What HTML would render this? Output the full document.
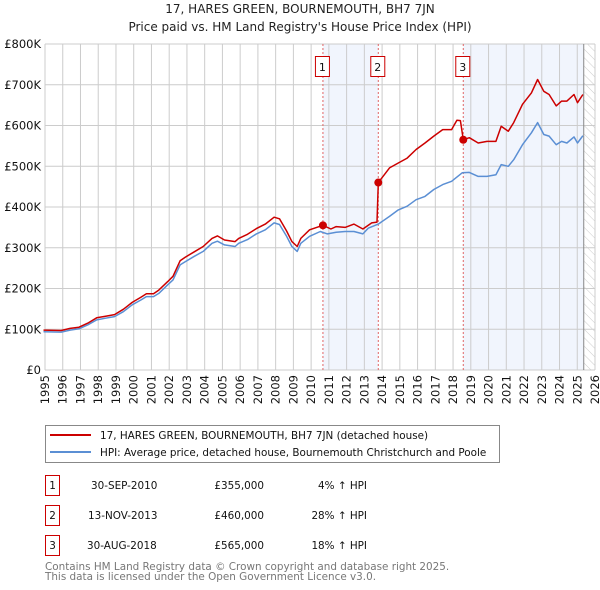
<!DOCTYPE html>
<html><head><meta charset="utf-8"><style>
body{margin:0;background:#fff;font-family:"DejaVu Sans","Liberation Sans",sans-serif;}
svg{display:block}
</style></head><body>
<svg id="c" width="600" height="590" xmlns="http://www.w3.org/2000/svg" font-family="DejaVu Sans, Liberation Sans, sans-serif">
<text x="300" y="13" text-anchor="middle" font-size="12" fill="#222">17, HARES GREEN, BOURNEMOUTH, BH7 7JN</text>
<text x="300" y="31" text-anchor="middle" font-size="12" fill="#222">Price paid vs. HM Land Registry's House Price Index (HPI)</text>
<defs><pattern id="hatch" width="6" height="6" patternUnits="userSpaceOnUse" patternTransform="rotate(-45)"><line x1="0" y1="0" x2="0" y2="6" stroke="#ccc" stroke-width="1"/></pattern></defs>
<g id="bg"></g><g id="grid"></g><g id="marks"></g><g id="axes"></g>
<g>
<rect x="45.5" y="425.5" width="454" height="37" fill="#fff" stroke="#888"/>
<line x1="50" y1="435" x2="91" y2="435" stroke="#cc0000" stroke-width="2"/>
<text x="100" y="439" font-size="10.4" fill="#111">17, HARES GREEN, BOURNEMOUTH, BH7 7JN (detached house)</text>
<line x1="50" y1="452" x2="91" y2="452" stroke="#5b8fd4" stroke-width="2"/>
<text x="100" y="456" font-size="10.4" fill="#111">HPI: Average price, detached house, Bournemouth Christchurch and Poole</text>
</g>
<g font-size="10.4" fill="#111">
<rect x="45.5" y="475.5" width="14" height="20" fill="#fff" stroke="#cc0000"/><text x="52.5" y="489" text-anchor="middle">1</text>
<text x="91" y="489">30-SEP-2010</text><text x="264" y="489" text-anchor="end">£355,000</text><text x="367" y="489" text-anchor="end">4% ↑ HPI</text>
<rect x="45.5" y="505.5" width="14" height="20" fill="#fff" stroke="#cc0000"/><text x="52.5" y="519" text-anchor="middle">2</text>
<text x="88" y="519">13-NOV-2013</text><text x="264" y="519" text-anchor="end">£460,000</text><text x="367" y="519" text-anchor="end">28% ↑ HPI</text>
<rect x="45.5" y="535.5" width="14" height="20" fill="#fff" stroke="#cc0000"/><text x="52.5" y="549" text-anchor="middle">3</text>
<text x="87" y="549">30-AUG-2018</text><text x="264" y="549" text-anchor="end">£565,000</text><text x="367" y="549" text-anchor="end">18% ↑ HPI</text>
</g>
<text x="45" y="570" font-size="10.4" fill="#777">Contains HM Land Registry data © Crown copyright and database right 2025.</text>
<text x="45" y="580" font-size="10.4" fill="#777">This data is licensed under the Open Government Licence v3.0.</text>
</svg>
<script>
const hpiYears=[1995,1996,1996.5,1997,1997.5,1998,1998.5,1999,1999.5,2000,2000.5,2000.8,2001.2,2001.5,2002,2002.3,2002.7,2003,2003.5,2004,2004.5,2004.8,2005.2,2005.8,2006,2006.5,2007,2007.5,2008,2008.3,2008.7,2009,2009.3,2009.5,2010,2010.6,2011,2011.5,2012,2012.5,2013,2013.3,2013.87,2014.5,2015,2015.5,2016,2016.5,2017,2017.5,2018,2018.6,2019,2019.5,2020,2020.5,2020.8,2021.2,2021.5,2022,2022.5,2022.85,2023.2,2023.5,2023.9,2024.2,2024.5,2024.9,2025.1,2025.4];
const hpiValues=[94,93,98,101,111,123,127,131,143,160,172,180,180,188,209,221,258,266,279,291,311,316,307,303,311,320,334,344,361,357,328,303,291,311,328,340,334,338,340,340,334,348,358,377,393,402,418,426,443,455,463,484,485,475,475,479,504,500,516,553,582,607,578,574,553,561,557,572,557,575];
const priceYears=[1995,1996,1996.5,1997,1997.5,1998,1998.5,1999,1999.5,2000,2000.5,2000.8,2001.2,2001.5,2002,2002.3,2002.7,2003,2003.5,2004,2004.5,2004.8,2005.2,2005.8,2006,2006.5,2007,2007.5,2008,2008.3,2008.7,2009,2009.3,2009.5,2010,2010.75,2011.2,2011.5,2012,2012.5,2013,2013.5,2013.8,2013.87,2014.5,2015,2015.5,2016,2016.5,2017,2017.5,2018,2018.3,2018.5,2018.66,2019,2019.5,2020,2020.5,2020.8,2021.2,2021.5,2022,2022.5,2022.85,2023.2,2023.5,2023.9,2024.2,2024.5,2024.9,2025.1,2025.4];
const priceValues=[98,97,102,105,115,128,132,136,149,166,179,187,187,196,217,230,268,277,290,303,323,329,319,315,323,333,347,358,375,371,341,315,303,323,344,355,346,352,350,358,346,361,363,460,496,508,520,541,557,574,590,590,613,612,565,570,557,561,561,598,586,607,652,680,713,684,676,648,660,660,676,656,676];
const saleYears=[2010.75,2013.87,2018.66];
const saleValues=[355,460,565];
const saleLabels=["1","2","3"];
const yTicks=[0,100,200,300,400,500,600,700,800];
const yTickLabels=["£0","£100K","£200K","£300K","£400K","£500K","£600K","£700K","£800K"];
const xTicks=[1995,1996,1997,1998,1999,2000,2001,2002,2003,2004,2005,2006,2007,2008,2009,2010,2011,2012,2013,2014,2015,2016,2017,2018,2019,2020,2021,2022,2023,2024,2025,2026];
const dataEnd=2025.45;

const NS="http://www.w3.org/2000/svg";
const L=45,R=595,T=44,B=370;
const xs=y=>L+(y-1995)/(2026-1995)*(R-L)-1.5;
const ys=v=>B-v/800*(B-T);
function mk(tag,attrs,parent){const e=document.createElementNS(NS,tag);for(const k in attrs)e.setAttribute(k,attrs[k]);parent.appendChild(e);return e;}
const gx=y=>L+(y-1995)/(2026-1995)*(R-L);
const bg=document.getElementById('bg'),grid=document.getElementById('grid'),marks=document.getElementById('marks'),axes=document.getElementById('axes');
let r=mk('rect',{x:xs(saleYears[0]),y:T,width:xs(saleYears[1])-xs(saleYears[0]),height:B-T,fill:'#eef3fc',opacity:0.8},bg);


r=mk('rect',{x:xs(saleYears[2]),y:T,width:xs(dataEnd)-xs(saleYears[2]),height:B-T,fill:'#eef3fc',opacity:0.8},bg);


r=mk('rect',{x:xs(dataEnd),y:T,width:R-xs(dataEnd),height:B-T,fill:'url(#hatch)'},bg);


yTicks.forEach((v,i)=>{
 mk('line',{x1:L,x2:R,y1:ys(v),y2:ys(v),stroke:'#ccc'},grid);
 const t=mk('text',{x:L-4,y:ys(v)+4,'text-anchor':'end','font-size':11.5,fill:'#111'},axes);t.textContent=yTickLabels[i];
 
 
});
xTicks.forEach(y=>{
 mk('line',{x1:gx(y),x2:gx(y),y1:T,y2:B,stroke:'#ccc'},grid);
 const t=mk('text',{x:0,y:0,'text-anchor':'end','font-size':11.5,fill:'#111',transform:`translate(${gx(y)+4},${B+5}) rotate(-90)`},axes);t.textContent=y;
 
 
});
mk('line',{x1:xs(dataEnd),x2:xs(dataEnd),y1:T,y2:B,stroke:'#888'},grid);
saleYears.forEach((y,i)=>{
 const d=mk('line',{x1:xs(y),x2:xs(y),y1:T,y2:B,stroke:'#e06666','stroke-dasharray':'2,2'},marks);
 
 
});
function path(xa,va,col,name){
 const p=mk('path',{d:xa.map((y,i)=>(i?'L':'M')+xs(y).toFixed(1)+','+ys(va[i]).toFixed(1)).join(''),fill:'none',stroke:col,'stroke-width':1.5,'stroke-linejoin':'round'},marks);
 
 
}
path(hpiYears,hpiValues,'#5b8fd4','hpi-line');
path(priceYears,priceValues,'#cc0000','price-paid-line');
saleYears.forEach((y,i)=>{
 const c=mk('circle',{cx:xs(y),cy:ys(saleValues[i]),r:4,fill:'#cc0000'},marks);
 
 
 const g=mk('g',{},marks);
 
 
 mk('rect',{x:xs(y)-7.5,y:56.5,width:14,height:20,fill:'#fff',stroke:'#cc0000'},g);
 const t=mk('text',{x:xs(y)-0.5,y:71,'text-anchor':'middle','font-size':11,fill:'#111'},g);t.textContent=saleLabels[i];
});
</script>
</body></html>
